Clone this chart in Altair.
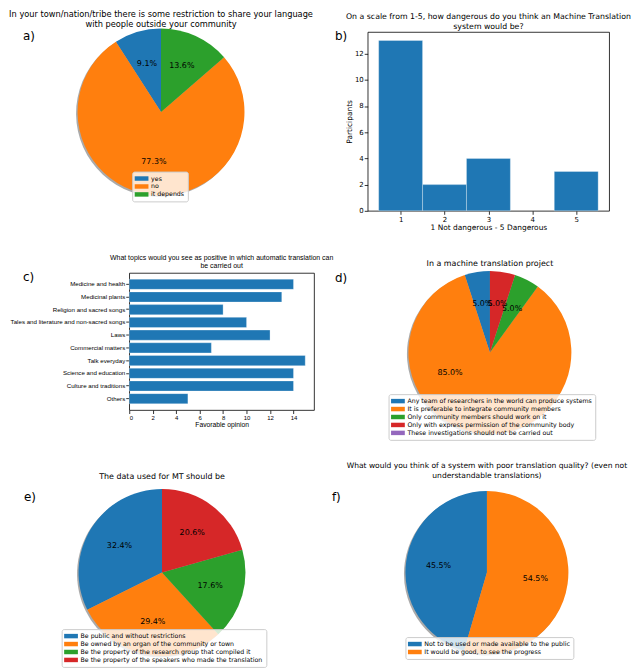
import altair as alt
import pandas as pd

FONT = "DejaVu Sans"
SMALL = "Liberation Sans"
TAB10 = ["#1f77b4", "#ff7f0e", "#2ca02c", "#d62728", "#9467bd"]
# wide legend patch, shifted right so it stays inside the legend box
PATCH = "M-1.2,-0.6L2.5,-0.6L2.5,0.6L-1.2,0.6Z"
X0 = 122  # all rows share the left edge of the c) plot area

# a) restriction to share the language outside the community
a_labels = ["yes", "no", "it depends"]
a_counts = [2, 17, 3]

# b) how dangerous an MT system would be (1-5)
b_scores = [1, 2, 3, 4, 5]
b_counts = [13, 2, 4, 0, 3]
b_ticks = [0, 2, 4, 6, 8, 10, 12]

# c) topics seen as positive for automatic translation
c_topics = ["Medicine and health", "Medicinal plants", "Religion and sacred songs",
            "Tales and literature and non-sacred songs", "Laws", "Commercial matters",
            "Talk everyday", "Science and education", "Culture and traditions", "Others"]
c_counts = [14, 13, 8, 10, 12, 7, 15, 14, 14, 5]
c_ticks = [0, 2, 4, 6, 8, 10, 12, 14]

# d) in a machine translation project
d_labels = ["Any team of researchers in the world can produce systems",
            "It is preferable to integrate community members",
            "Only community members should work on it",
            "Only with express permission  of the community body",
            "These investigations should not be carried out"]
d_counts = [1, 17, 1, 1, 0]

# e) the data used for MT should be
e_labels = ["Be public and without restrictions",
            "Be owned by an organ of the community or town",
            "Be the property of the research group that compiled it",
            "Be the property of the speakers who made the translation"]
e_counts = [11, 10, 6, 7]

# f) system with poor translation quality
f_labels = ["Not to be used or made available to the public",
            "It would be good, to see the progress"]
f_counts = [10, 12]


def head(lines, font=FONT, size=8, offset=3, gap=2):
    return alt.Title(lines, font=font, fontSize=size, fontWeight="normal", color="black",
                     lineHeight=size + gap, offset=offset, anchor="middle")


def tag(letter, x, y):
    return alt.Chart(pd.DataFrame({"t": [letter]})).mark_text(
        font=FONT, fontSize=12, align="left", baseline="middle", color="black"
    ).encode(text="t:N", x=alt.value(x), y=alt.value(y))


def axis(title, values=None, font=FONT, label_size=7, title_size=7.5):
    opts = dict(domain=False, grid=False, tickColor="black", tickSize=3.5, tickWidth=0.8,
                labelFont=font, labelFontSize=label_size, labelColor="black",
                titleFont=font, titleFontSize=title_size, titleFontWeight="normal",
                titleColor="black", labelPadding=1, titlePadding=1)
    if values is not None:
        opts["values"] = values
    return alt.Axis(title=title, **opts)


def pie(labels, counts, title, letter, width, height, radius, lx, ly, tx, ty,
        offset=3, gap=2, title_size=8, big_shift=0.0, big_radius=0.6):
    total = sum(counts)
    df = pd.DataFrame({"label": labels, "n": counts, "k": list(range(len(labels)))})
    df["pct"] = [f"{100 * n / total:.1f}%" for n in counts]
    df["share"] = [n / total for n in counts]
    base = alt.Chart(df).encode(
        theta=alt.Theta("n:Q", stack=True),
        order=alt.Order("k:Q", sort="descending"),
    )
    shadow = base.mark_arc(outerRadius=radius, color="#555555", opacity=0.5, xOffset=-1.5, yOffset=1.5)
    wedges = base.mark_arc(outerRadius=radius).encode(
        color=alt.Color("label:N", scale=alt.Scale(domain=labels, range=TAB10[:len(labels)]),
                        legend=alt.Legend(title=None, orient="none", legendX=lx, legendY=ly,
                                          symbolType=PATCH, symbolSize=56, symbolStrokeWidth=0,
                                          labelFont=FONT, labelFontSize=6.3, labelColor="black",
                                          labelLimit=400, labelOffset=8, rowPadding=0,
                                          fillColor="rgba(255,255,255,0.8)", strokeColor="#cccccc",
                                          cornerRadius=2, padding=3, zindex=1))
    )
    text_style = dict(font=FONT, fontSize=8, color="black")
    small = base.mark_text(radius=0.6 * radius, **text_style).encode(
        text=alt.condition("datum.n > 0 && datum.share < 0.8", alt.Text("pct:N"), alt.value("")))
    # the label of a very dominant wedge was moved aside in the original figure
    big = base.mark_text(radius=big_radius * radius, thetaOffset=big_shift, **text_style).encode(
        text=alt.condition("datum.share >= 0.8", alt.Text("pct:N"), alt.value("")))
    return alt.layer(shadow, wedges, small, big, tag(letter, tx, ty)).properties(
        width=width, height=height, title=head(title, size=title_size, offset=offset, gap=gap),
        view=alt.ViewBackground(strokeWidth=0)
    )


# pie views are narrow boxes starting at X0; the pies spill over their left side
pa = pie(a_labels, a_counts,
         ["In your town/nation/tribe there is some restriction to share your language",
          "with people outside your community"],
         "a)", 64, 161, 84, 125 - X0, 140.5, 15 - X0, 4.5, offset=0, gap=1.5, title_size=8.3)

b_df = pd.DataFrame({"score": b_scores, "n": b_counts})
pb = alt.layer(
    alt.Chart(b_df).transform_filter("datum.n > 0").transform_calculate(
        lo="datum.score - 0.5", hi="datum.score + 0.5"
    ).mark_bar(color=TAB10[0], stroke="white", strokeWidth=0.5, strokeOpacity=0.6).encode(
        x=alt.X("lo:Q", scale=alt.Scale(domain=[0.25, 5.75], nice=False, zero=False),
                axis=axis("1 Not dangerous - 5 Dangerous", b_scores)),
        x2="hi:Q",
        y=alt.Y("n:Q", scale=alt.Scale(domain=[0, 13.65], nice=False),
                axis=axis("Participants", b_ticks)),
        y2=alt.datum(0),
    ),
    tag("b)", -33, 4.5),
).properties(
    width=243, height=180,
    title=head(["On a scale from 1-5, how dangerous do you think an Machine Translation",
                "system would be?"], size=7.85, offset=0, gap=1.5),
    view=alt.ViewBackground(stroke="black", strokeWidth=0.8),
)

c_df = pd.DataFrame({"topic": c_topics, "n": c_counts})
pc = alt.layer(
    alt.Chart(c_df).mark_bar(color=TAB10[0], stroke="white", strokeWidth=0.5, strokeOpacity=0.6).encode(
        x=alt.X("n:Q", scale=alt.Scale(domain=[0, 15.75], nice=False),
                axis=axis("Favorable opinion", c_ticks, SMALL, 6, 6.8)),
        y=alt.Y("topic:N", sort=c_topics, scale=alt.Scale(paddingInner=0.2, paddingOuter=0.49),
                axis=axis(None, None, SMALL, 6.2)),
    ),
    tag("c)", -107, 4.5),
).properties(
    width=186, height=138,
    title=head(["What topics would you see as positive in which automatic translation can",
                "be carried out"], font=SMALL, size=7, offset=2),
    view=alt.ViewBackground(stroke="black", strokeWidth=0.8),
)

pd_ = pie(d_labels, d_counts, "In a machine translation project",
          "d)", 280, 160, 82, 38, 122, -16, 5.5, big_shift=0.94, big_radius=0.55)

pe = pie(e_labels, e_counts, "The data used for MT should be",
         "e)", 66, 172, 84, 54 - X0, 143, 16 - X0, 10.5, offset=6)

pf = pie(f_labels, f_counts,
         ["What would you think of a system with poor translation quality? (even not",
          "understandable translations)"],
         "f)", 284, 172, 82, 60, 151, -14, 10.5, offset=8, gap=1.5, title_size=7.6)

chart = alt.vconcat(
    alt.hconcat(pa, pb, spacing=362 - X0 - 64, bounds="flush").resolve_scale(color="independent"),
    alt.hconcat(pc, pd_, spacing=0).resolve_scale(color="independent"),
    alt.hconcat(pe, pf, spacing=340 - X0 - 66, bounds="flush").resolve_scale(color="independent"),
    spacing=21.5,
).resolve_scale(color="independent").properties(padding=0).configure_view(strokeWidth=0)

chart.save("out.html", embed_options={"renderer": "svg", "actions": False})
